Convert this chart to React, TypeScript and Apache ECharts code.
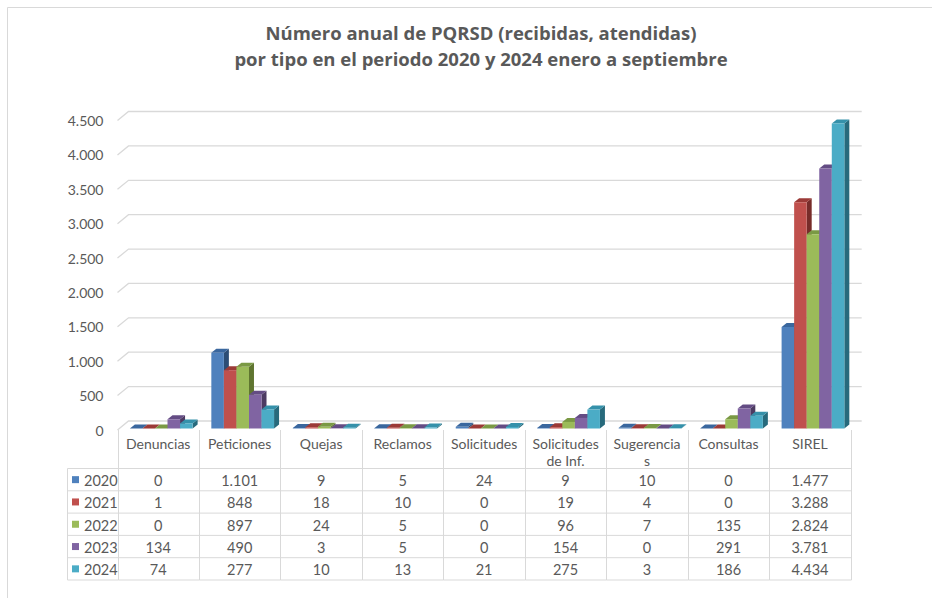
import React, { useEffect, useRef } from "react";
import * as echarts from "echarts";

const categories = [
  "Denuncias",
  "Peticiones",
  "Quejas",
  "Reclamos",
  "Solicitudes",
  "Solicitudes\nde Inf.",
  "Sugerencia\ns",
  "Consultas",
  "SIREL",
];
const years = ["2020", "2021", "2022", "2023", "2024"];
const values2020 = [0, 1101, 9, 5, 24, 9, 10, 0, 1477];
const values2021 = [1, 848, 18, 10, 0, 19, 4, 0, 3288];
const values2022 = [0, 897, 24, 5, 0, 96, 7, 135, 2824];
const values2023 = [134, 490, 3, 5, 0, 154, 0, 291, 3781];
const values2024 = [74, 277, 10, 13, 21, 275, 3, 186, 4434];
const yTicks = [0, 500, 1000, 1500, 2000, 2500, 3000, 3500, 4000, 4500];

const seriesValues = [values2020, values2021, values2022, values2023, values2024];
const frontColors = ["#4F81BD", "#C0504D", "#9BBB59", "#8064A2", "#4BACC6"];
const topColors = ["#3A679E", "#9B3A37", "#7A9944", "#644C84", "#3591AA"];
const sideColors = ["#2C4D75", "#772C2A", "#5F7530", "#4D3B62", "#276A7C"];

const FONT = "Lato";
const TEXT = "#595959";
const LINE = "#D9D9D9";

const fmt = (v: number) => String(v).replace(/\B(?=(\d{3})+(?!\d))/g, ".");

const App: React.FC = () => {
  const ref = useRef<HTMLDivElement>(null);

  useEffect(() => {
    if (!ref.current) return;
    const chart = echarts.init(ref.current, null, { renderer: "svg" });

    const DX = 11; // back wall offset
    const DY = -9;
    const BDX = 5; // bar depth
    const BDY = -4;

    const gridSeries: any = {
      type: "custom",
      z: 1,
      silent: true,
      data: yTicks.map((t) => [0, t]),
      renderItem: (params: any, api: any) => {
        const cs = params.coordSys;
        const y = api.coord([0, api.value(1)])[1];
        const left = cs.x;
        const right = cs.x + cs.width;
        return {
          type: "polyline",
          shape: {
            points: [
              [left, y],
              [left + DX, y + DY],
              [right + DX, y + DY],
            ],
          },
          style: { stroke: LINE, lineWidth: 1.3, fill: "none" },
        };
      },
    };

    const barSeries: any[] = seriesValues.map((vals, si) => ({
      type: "custom",
      name: years[si],
      z: 2 + si,
      silent: true,
      data: vals.map((v, i) => [i, v]),
      renderItem: (params: any, api: any) => {
        const idx = api.value(0);
        const v = api.value(1);
        const c0 = api.coord([idx, 0]);
        const c1 = api.coord([idx, v]);
        const cw = api.size([1, 0])[0];
        const w = cw * 0.154;
        const x0 = c0[0] + 3 - 2.5 * w + si * w;
        const yb = c0[1] - 1.5;
        const yt = c1[1] - 1.5;
        return {
          type: "group",
          children: [
            {
              type: "polygon",
              shape: {
                points: [
                  [x0 + w, yt],
                  [x0 + w + BDX, yt + BDY],
                  [x0 + w + BDX, yb + BDY],
                  [x0 + w, yb],
                ],
              },
              style: { fill: sideColors[si] },
            },
            {
              type: "polygon",
              shape: {
                points: [
                  [x0, yt],
                  [x0 + w, yt],
                  [x0 + w + BDX, yt + BDY],
                  [x0 + BDX, yt + BDY],
                ],
              },
              style: { fill: topColors[si] },
            },
            {
              type: "rect",
              shape: { x: x0, y: yt, width: w, height: Math.max(0, yb - yt) },
              style: { fill: frontColors[si] },
            },
          ],
        };
      },
    }));

    const rowsY = [468.5, 490.8, 513.1, 535.4, 557.7, 580];
    const headerTop = 430;
    const legendLeft = 67.5;

    const tableSeries: any = {
      type: "custom",
      z: 10,
      silent: true,
      data: categories.map((_, i) => [i, 0]),
      renderItem: (params: any, api: any) => {
        const idx = api.value(0);
        const c = api.coord([idx, 0]);
        const cw = api.size([1, 0])[0];
        const cx = c[0];
        const left = Math.round(cx - cw / 2) + 0.5;
        const right = Math.round(cx + cw / 2) + 0.5;
        const children: any[] = [];
        children.push({
          type: "line",
          shape: { x1: left, y1: headerTop, x2: left, y2: rowsY[rowsY.length - 1] },
          style: { stroke: LINE, lineWidth: 1 },
        });
        if (idx === categories.length - 1) {
          children.push({
            type: "line",
            shape: { x1: right, y1: headerTop, x2: right, y2: rowsY[rowsY.length - 1] },
            style: { stroke: LINE, lineWidth: 1 },
          });
        }
        rowsY.forEach((ry) => {
          children.push({
            type: "line",
            shape: { x1: left, y1: ry, x2: right, y2: ry },
            style: { stroke: LINE, lineWidth: 1 },
          });
        });
        children.push({
          type: "text",
          style: {
            x: cx,
            y: 434.5,
            text: categories[idx],
            fill: TEXT,
            font: `14px ${FONT}`,
            align: "center",
            verticalAlign: "top",
            lineHeight: 17,
          },
        });
        seriesValues.forEach((vals, si) => {
          children.push({
            type: "text",
            style: {
              x: cx,
              y: (rowsY[si] + rowsY[si + 1]) / 2 + 1,
              text: fmt(vals[idx]),
              fill: TEXT,
              font: `14.5px ${FONT}`,
              align: "center",
              verticalAlign: "middle",
            },
          });
        });
        if (idx === 0) {
          children.push({
            type: "line",
            shape: { x1: legendLeft, y1: rowsY[0], x2: legendLeft, y2: rowsY[rowsY.length - 1] },
            style: { stroke: LINE, lineWidth: 1 },
          });
          rowsY.forEach((ry) => {
            children.push({
              type: "line",
              shape: { x1: legendLeft, y1: ry, x2: left, y2: ry },
              style: { stroke: LINE, lineWidth: 1 },
            });
          });
          years.forEach((yr, si) => {
            const yc = (rowsY[si] + rowsY[si + 1]) / 2;
            children.push({
              type: "rect",
              shape: { x: 72, y: yc - 3.5, width: 7, height: 7 },
              style: { fill: frontColors[si] },
            });
            children.push({
              type: "text",
              style: {
                x: 84,
                y: yc + 1,
                text: yr,
                fill: TEXT,
                font: `14.5px ${FONT}`,
                align: "left",
                verticalAlign: "middle",
              },
            });
          });
        }
        return { type: "group", children };
      },
    };

    chart.setOption({
      animation: false,
      backgroundColor: "#ffffff",
      title: {
        text: "Número anual de PQRSD (recibidas, atendidas)\npor tipo en el periodo 2020 y 2024 enero a septiembre",
        left: 476,
        top: 14,
        textAlign: "center",
        textStyle: {
          fontFamily: "Open Sans",
          fontWeight: "bold",
          fontSize: 18.5,
          color: TEXT,
          lineHeight: 26,
        },
      },
      graphic: [
        {
          type: "rect",
          silent: true,
          shape: { x: 7.5, y: 7.5, width: 1000, height: 1000 },
          style: { fill: "none", stroke: LINE, lineWidth: 1 },
        },
      ],
      grid: { left: 117.5, right: 81.3, top: 120.5, bottom: 168, containLabel: false },
      xAxis: {
        type: "category",
        data: categories,
        axisLine: { show: false },
        axisTick: { show: false },
        axisLabel: { show: false },
        splitLine: { show: false },
      },
      yAxis: {
        type: "value",
        min: 0,
        max: 4500,
        interval: 500,
        axisLine: { show: false },
        axisTick: { show: false },
        splitLine: { show: false },
        axisLabel: {
          margin: 14,
          color: TEXT,
          fontFamily: FONT,
          fontSize: 14,
          formatter: (v: number) => fmt(v),
        },
      },
      series: [gridSeries, ...barSeries, tableSeries],
    });

    return () => chart.dispose();
  }, []);

  return (
    <div
      ref={ref}
      style={{ position: "fixed", left: 0, top: 0, width: 932, height: 598 }}
    />
  );
};

export default App;
